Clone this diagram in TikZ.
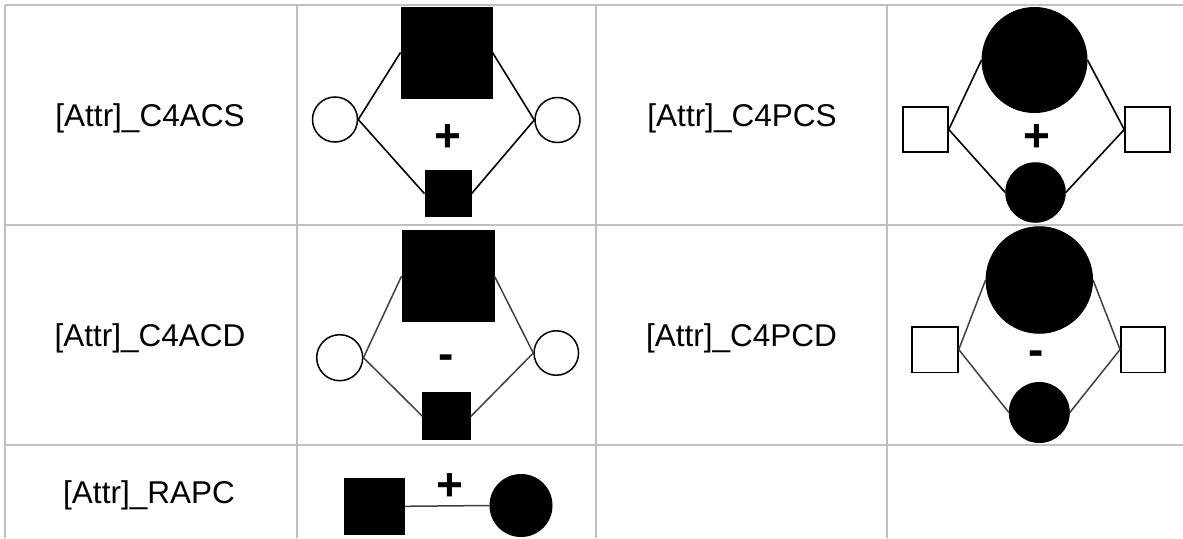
\documentclass[tikz,border=0pt]{standalone}
\usepackage{fontspec}
\setmainfont{Liberation Sans}
\begin{document}
\begin{tikzpicture}[x=1pt,y=-1pt,
  grid/.style={draw=black!25,line width=2pt},
  lbl/.style={anchor=base,inner sep=0pt,font=\fontsize{31.5}{36}\selectfont},
  sign/.style={anchor=center,inner sep=0pt,font=\fontsize{46}{50}\selectfont\bfseries},
  fsq/.style={rectangle,fill=black,draw=black,line width=1pt,inner sep=0pt},
  fci/.style={circle,fill=black,draw=black,line width=1pt,inner sep=0pt},
  osq/.style={rectangle,fill=white,draw=black,line width=1.5pt,inner sep=0pt},
  oci/.style={circle,fill=white,draw=black,line width=1.5pt,inner sep=0pt},
  linkA/.style={draw=black,line width=1.6pt},
  linkB/.style={draw=black!75,line width=1.5pt}]
\fill[white] (0,0) rectangle (1183,538);
\useasboundingbox (0,0) rectangle (1183,538);
% grid
\draw[grid] (5,5) -- (1183,5);
\draw[grid] (5,225) -- (1183,225);
\draw[grid] (5,445) -- (1183,445);
\draw[grid] (5,5) -- (5,538);
\draw[grid] (297,5) -- (297,538);
\draw[grid] (596,5) -- (596,538);
\draw[grid] (887,5) -- (887,538);
% labels
\node[lbl] (t1) at (150,126.7) {[Attr]\_C4ACS};
\node[lbl] (t2) at (742,126.7) {[Attr]\_C4PCS};
\node[lbl] (t3) at (150,346) {[Attr]\_C4ACD};
\node[lbl] (t4) at (741.5,346) {[Attr]\_C4PCD};
\node[lbl] (t5) at (149,503) {[Attr]\_RAPC};
% row 1, C4ACS
\node[fsq,minimum width=91pt,minimum height=91pt] (a1big) at (446.5,52.5) {};
\node[oci,minimum size=45pt] (a1l) at (335,119.5) {};
\node[oci,minimum size=45pt] (a1r) at (557.5,120) {};
\node[fsq,minimum width=46pt,minimum height=46pt] (a1sm) at (448,193.7) {};
\node[sign] (a1s) at (448,138) {+};
\draw[linkA] (a1l.east) -- (a1big.west);
\draw[linkA] (a1big.east) -- (a1r.west);
\draw[linkA] (a1l.east) -- (a1sm.west);
\draw[linkA] (a1sm.east) -- (a1r.west);
% row 1, C4PCS
\node[fci,minimum size=105pt] (p1big) at (1034.5,60) {};
\node[osq,minimum width=45pt,minimum height=45pt] (p1l) at (925.5,129.5) {};
\node[osq,minimum width=45pt,minimum height=45pt] (p1r) at (1147.5,129.5) {};
\node[fci,minimum size=59.5pt] (p1sm) at (1035.5,192.5) {};
\node[sign] (p1s) at (1036.7,137.7) {+};
\draw[linkA] (p1l.east) -- (p1big.west);
\draw[linkA] (p1big.east) -- (p1r.west);
\draw[linkA] (p1l.east) -- (p1sm.west);
\draw[linkA] (p1sm.east) -- (p1r.west);
% row 2, C4ACD
\node[fsq,minimum width=92pt,minimum height=91pt] (a2big) at (448,276.2) {};
\node[oci,minimum size=46pt] (a2l) at (339.7,357.7) {};
\node[oci,minimum size=44.5pt] (a2r) at (556.3,353) {};
\node[fsq,minimum width=47.5pt,minimum height=47pt] (a2sm) at (446.7,416.3) {};
\node[sign] (a2s) at (445.7,361.7) {-};
\draw[linkB] (a2l.east) -- (a2big.west);
\draw[linkB] (a2big.east) -- (a2r.west);
\draw[linkB] (a2l.east) -- (a2sm.west);
\draw[linkB] (a2sm.east) -- (a2r.west);
% row 2, C4PCD
\node[fci,minimum size=106.5pt] (p2big) at (1039.3,280) {};
\node[osq,minimum width=46pt,minimum height=45.5pt] (p2l) at (935,349.5) {};
\node[osq,minimum width=44pt,minimum height=45.5pt] (p2r) at (1142.8,349.5) {};
\node[fci,minimum size=60pt] (p2sm) at (1039.3,412.5) {};
\node[sign] (p2s) at (1036,358.3) {-};
\draw[linkB] (p2l.east) -- (p2big.west);
\draw[linkB] (p2big.east) -- (p2r.west);
\draw[linkB] (p2l.east) -- (p2sm.west);
\draw[linkB] (p2sm.east) -- (p2r.west);
% row 3, RAPC
\node[fsq,minimum width=60pt,minimum height=56pt] (r3sq) at (374.3,506.3) {};
\node[fci,minimum size=62pt] (r3c) at (521,505.5) {};
\node[sign] (r3s) at (450,487.5) {+};
\draw[linkB] (r3sq.east) -- (r3c.west);
\end{tikzpicture}
\end{document}
